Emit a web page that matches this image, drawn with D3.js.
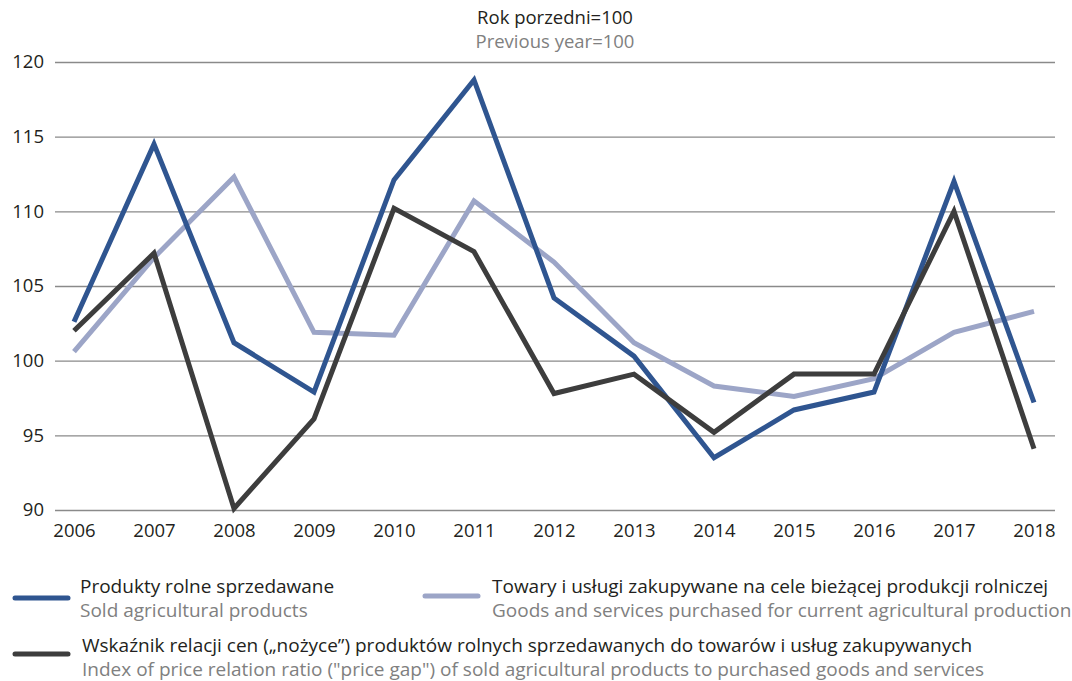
<!DOCTYPE html>
<html>
<head>
<meta charset="utf-8">
<script src="https://cdn.jsdelivr.net/npm/d3@7"></script>
<style>
  body { margin: 0; background: #fff; }
  svg { font-family: "Open Sans", "Noto Sans", sans-serif; }
</style>
</head>
<body>
<div id="chart"></div>
<script>
// dane
const years = ['2006', '2007', '2008', '2009', '2010', '2011', '2012', '2013', '2014', '2015', '2016', '2017', '2018'];
const sold = [102.6, 114.5, 101.2, 97.9, 112.1, 118.8, 104.2, 100.3, 93.5, 96.7, 97.9, 112.0, 97.2];
const purchased = [100.6, 106.9, 112.3, 101.9, 101.7, 110.7, 106.6, 101.2, 98.3, 97.6, 98.8, 101.9, 103.3];
const priceGap = [102.0, 107.2, 90.1, 96.1, 110.2, 107.3, 97.8, 99.1, 95.2, 99.1, 99.1, 110.0, 94.1];
const yTicks = [90, 95, 100, 105, 110, 115, 120];

const titlePl = 'Rok porzedni=100';
const titleEn = 'Previous year=100';

const series = [
    { values: sold, color: '#2f5590', pl: 'Produkty rolne sprzedawane', en: 'Sold agricultural products' },
    { values: purchased, color: '#9ca5c7', pl: 'Towary i usługi zakupywane na cele bieżącej produkcji rolniczej', en: 'Goods and services purchased for current agricultural production' },
    { values: priceGap, color: '#3d3d3d', pl: 'Wskaźnik relacji cen („nożyce”) produktów rolnych sprzedawanych do towarów i usług zakupywanych', en: 'Index of price relation ratio ("price gap") of sold agricultural products to purchased goods and services' },
];

const width = 1072;
const height = 681;
const plot = { left: 55, right: 1055, top: 62, bottom: 510 };

const svg = d3.select('#chart').append('svg')
    .attr('width', width)
    .attr('height', height)
    .attr('viewBox', `0 0 ${width} ${height}`);

const xScale = d3.scalePoint().domain(years).range([74, 1034]);
const yScale = d3.scaleLinear().domain([90, 120]).range([plot.bottom, plot.top]);

// tytuł
svg.append('text').attr('x', 555).attr('y', 24).attr('text-anchor', 'middle')
    .style('font-size', '18.5px').style('fill', '#231f20').text(titlePl);
svg.append('text').attr('x', 555).attr('y', 48).attr('text-anchor', 'middle')
    .style('font-size', '18.5px').style('fill', '#808080').text(titleEn);

// siatka
svg.append('g')
    .attr('transform', `translate(${plot.left}, 0)`)
    .call(d3.axisLeft(yScale).tickValues(yTicks).tickSize(-(plot.right - plot.left)).tickFormat(''))
    .call(g => g.select('.domain').remove())
    .selectAll('line')
    .style('stroke', '#8a8a8a')
    .style('stroke-width', 1.4);

// oś Y
svg.append('g')
    .attr('transform', `translate(${plot.left}, 0)`)
    .call(d3.axisLeft(yScale).tickValues(yTicks).tickSize(0).tickPadding(11))
    .call(g => g.select('.domain').remove())
    .selectAll('text')
    .style('font-family', '"Open Sans", sans-serif')
    .style('font-size', '18.5px')
    .style('fill', '#231f20');

// oś X
svg.append('g')
    .attr('transform', `translate(0, ${plot.bottom})`)
    .call(d3.axisBottom(xScale).tickSize(0).tickPadding(14))
    .call(g => g.select('.domain').remove())
    .selectAll('text')
    .style('font-family', '"Open Sans", sans-serif')
    .style('font-size', '18.5px')
    .style('fill', '#231f20');

// linie
const line = d3.line()
    .x((d, i) => xScale(years[i]))
    .y(d => yScale(d));

svg.append('g').selectAll('path')
    .data([series[1], series[0], series[2]])
    .join('path')
    .attr('d', d => line(d.values))
    .style('fill', 'none')
    .style('stroke', d => d.color)
    .style('stroke-width', 5)
    .style('stroke-linejoin', 'miter');

// legenda
const legendPos = [
    { x: 15, y: 598, tx: 65, t1: -5, t2: 19 },
    { x: 425, y: 596, tx: 67, t1: -3, t2: 21 },
    { x: 15, y: 654, tx: 67, t1: -2, t2: 22 },
];
series.forEach((s, i) => {
    const p = legendPos[i];
    const g = svg.append('g').attr('transform', `translate(${p.x}, ${p.y})`);
    g.append('line').attr('x1', 0).attr('x2', 53).attr('y1', 0).attr('y2', 0)
        .style('stroke', s.color).style('stroke-width', 5).style('stroke-linecap', 'round');
    g.append('text').attr('x', p.tx).attr('y', p.t1)
        .style('font-size', '19px').style('fill', '#231f20').text(s.pl);
    g.append('text').attr('x', p.tx).attr('y', p.t2)
        .style('font-size', '19px').style('fill', '#808080').text(s.en);
});
</script>
</body>
</html>
